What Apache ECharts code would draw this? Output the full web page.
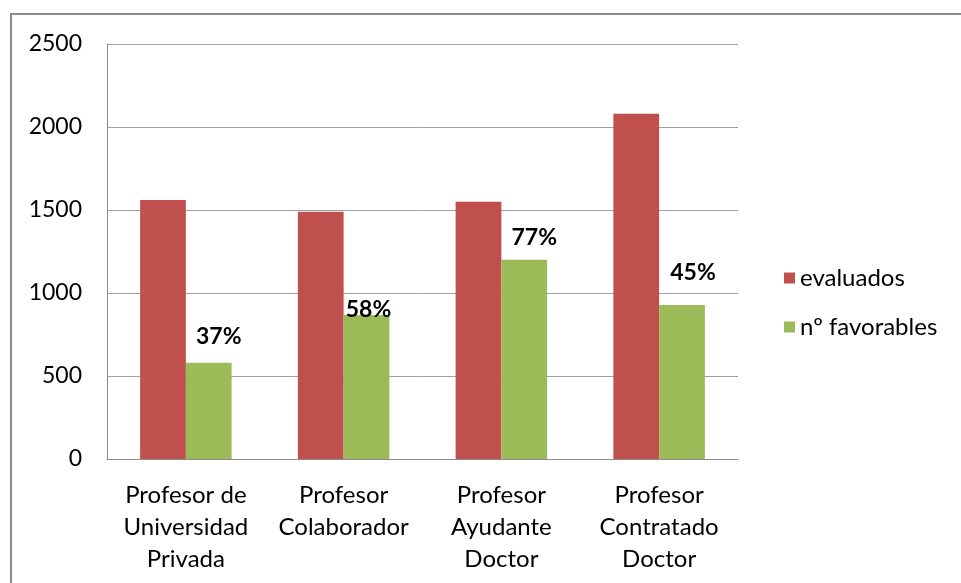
<!DOCTYPE html>
<html>
<head>
<meta charset="utf-8">
<script src="https://cdn.jsdelivr.net/npm/echarts@6/dist/echarts.min.js"></script>
<style>
html,body{margin:0;padding:0;background:#fff;}
#container{width:961px;height:583px;}
</style>
</head>
<body>
<div id="container"></div>
<script>
var categories = ['Profesor de\nUniversidad\nPrivada','Profesor\nColaborador','Profesor\nAyudante\nDoctor','Profesor\nContratado\nDoctor'];
var evaluados = [1560, 1490, 1550, 2080];
var favorables = [580, 867, 1200, 927];
var porcentajes = ['37%','58%','77%','45%'];
// label nudges
var labelOffsets = [[10,-16],[2,5],[10,-12],[11,-23]];

var dom = document.getElementById('container');
var myChart = echarts.init(dom);
var font = 'Lato';

var favData = [];
for (var i = 0; i < favorables.length; i++) {
	favData.push({
		value: favorables[i],
		label: {offset: labelOffsets[i]}
	});
}

var option = {
	animation: false,
	textStyle: {fontFamily: font},
	graphic: [{
		type: 'rect',
		shape: {x: 11, y: 14, width: 1000, height: 620},
		style: {fill: 'none', stroke: '#8a8a8a', lineWidth: 2}
	}],
	grid: {left: 107, right: 223, top: 44, bottom: 124},
	legend: {
		orient: 'vertical',
		left: 779,
		top: 261,
		itemWidth: 11,
		itemHeight: 11,
		itemGap: 25,
		icon: 'rect',
		textStyle: {fontFamily: font, fontSize: 24, color: '#000', padding: [0,0,0,0]},
		data: ['evaluados','nº favorables']
	},
	xAxis: {
		type: 'category',
		data: categories,
		axisLine: {lineStyle: {color: '#8c8c8c', width: 1}},
		axisTick: {show: false},
		axisLabel: {
			interval: 0,
			margin: 20,
			fontFamily: font,
			fontSize: 24,
			lineHeight: 32,
			color: '#000'
		}
	},
	yAxis: {
		type: 'value',
		min: 0,
		max: 2500,
		interval: 500,
		axisLine: {show: true, lineStyle: {color: '#8c8c8c', width: 1}},
		axisTick: {show: false},
		splitLine: {lineStyle: {color: '#a0a0a0', width: 1}},
		axisLabel: {
			margin: 25,
			fontFamily: font,
			fontSize: 23,
			color: '#000',
			formatter: function(v){ return String(v); }
		}
	},
	series: [
		{
			name: 'evaluados',
			type: 'bar',
			data: evaluados,
			barGap: '0%',
			barCategoryGap: '42%',
			itemStyle: {color: '#C0504D'}
		},
		{
			name: 'nº favorables',
			type: 'bar',
			data: favData,
			itemStyle: {color: '#9BBB59'},
			label: {
				show: true,
				position: 'top',
				distance: 0,
				fontFamily: font,
				fontSize: 23,
				fontWeight: 'bold',
				lineHeight: 20,
				color: '#000',
				formatter: function(p){ return porcentajes[p.dataIndex]; }
			}
		}
	]
};
myChart.setOption(option);
</script>
</body>
</html>
